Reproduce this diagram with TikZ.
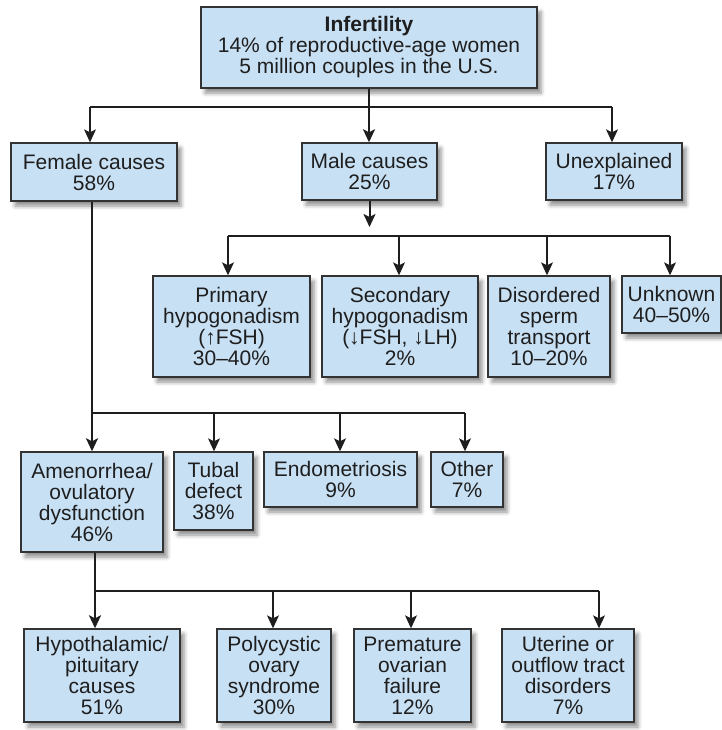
\documentclass[tikz,border=0pt]{standalone}
\usepackage{fontspec}
\setmainfont{Liberation Sans}
\usetikzlibrary{arrows.meta,shadows.blur}
\definecolor{boxfill}{HTML}{C8E0F4}
\definecolor{boxline}{HTML}{333333}
\definecolor{ink}{HTML}{1E1E1E}
\begin{document}
\begin{tikzpicture}[x=1pt,y=-1pt,
  cbox/.style={draw=boxline, line width=1.4pt, fill=boxfill, text=ink, align=center,
    inner sep=0pt, font=\fontsize{21}{21}\selectfont,
    blur shadow={shadow xshift=4pt, shadow yshift=-5pt, shadow blur radius=4pt, shadow opacity=45}},
  conn/.style={draw=ink, line width=1.1pt},
  trunk/.style={draw=ink, line width=2pt},
  arr/.style={-{Stealth[length=13pt,width=12pt,inset=3pt]}}
]
\useasboundingbox (0,0) rectangle (721,730);

% level 0
\node[cbox, minimum width=336pt, minimum height=81pt] (top) at (369,47.5)
  {\textbf{Infertility}\\14\% of reproductive-age women\\5 million couples in the U.S.};

% level 1
\node[cbox, minimum width=166pt, minimum height=58pt] (fem) at (94,172) {Female causes\\58\%};
\node[cbox, minimum width=135pt, minimum height=57pt] (male) at (369.5,171.5) {Male causes\\25\%};
\node[cbox, minimum width=136pt, minimum height=57pt] (unex) at (614,171.5) {Unexplained\\17\%};

% male causes
\node[cbox, minimum width=157pt, minimum height=101pt] (prim) at (231.5,326.5)
  {Primary\\hypogonadism\\(↑FSH)\\30--40\%};
\node[cbox, minimum width=156pt, minimum height=101pt] (sec) at (400,326.5)
  {Secondary\\hypogonadism\\(↓FSH, ↓LH)\\2\%};
\node[cbox, minimum width=122pt, minimum height=101pt] (dis) at (549,326.5)
  {Disordered\\sperm\\transport\\10--20\%};
\node[cbox, minimum width=99pt, minimum height=57pt] (unk) at (671.5,304.5)
  {Unknown\\40--50\%};

% female causes
\node[cbox, minimum width=142pt, minimum height=100pt] (amen) at (92,502)
  {Amenorrhea/\\ovulatory\\dysfunction\\46\%};
\node[cbox, minimum width=79pt, minimum height=78pt] (tub) at (213.5,491)
  {Tubal\\defect\\38\%};
\node[cbox, minimum width=153pt, minimum height=55pt] (endo) at (340.5,479.5)
  {Endometriosis\\9\%};
\node[cbox, minimum width=72pt, minimum height=55pt] (oth) at (467,479.5)
  {Other\\7\%};

% ovulatory causes
\node[cbox, minimum width=156pt, minimum height=93pt] (hypo) at (102,675.5)
  {Hypothalamic/\\pituitary\\causes\\51\%};
\node[cbox, minimum width=114pt, minimum height=93pt] (poly) at (274,675.5)
  {Polycystic\\ovary\\syndrome\\30\%};
\node[cbox, minimum width=117pt, minimum height=93pt] (prem) at (412.5,675.5)
  {Premature\\ovarian\\failure\\12\%};
\node[cbox, minimum width=132pt, minimum height=93pt] (uter) at (568,675.5)
  {Uterine or\\outflow tract\\disorders\\7\%};

% connectors: top
\coordinate (tl) at (90,107);
\coordinate (tr) at (612,107);
\draw[conn] (tl) -- (tr);
\draw[trunk,arr] (top.south) -- (top.south |- male.north);
\draw[conn,arr] (tl) -- (tl |- fem.north);
\draw[conn,arr] (tr) -- (tr |- unex.north);

% male branch
\coordinate (mend) at (369.5,227);
\draw[trunk,arr] (male.south) -- (mend);
\coordinate (ml) at (228,236);
\coordinate (m2) at (399,236);
\coordinate (m3) at (547,236);
\coordinate (mr) at (670,236);
\draw[conn] (ml) -- (mr);
\draw[conn,arr] (ml) -- (ml |- prim.north);
\draw[conn,arr] (m2) -- (m2 |- sec.north);
\draw[conn,arr] (m3) -- (m3 |- dis.north);
\draw[conn,arr] (mr) -- (mr |- unk.north);

% female branch
\coordinate (fj) at (92,413);
\coordinate (f2) at (214,413);
\coordinate (f3) at (340,413);
\coordinate (fr) at (465,413);
\draw[trunk,arr] (fj |- fem.south) -- (fj |- amen.north);
\draw[conn] (fj) -- (fr);
\draw[conn,arr] (f2) -- (f2 |- tub.north);
\draw[conn,arr] (f3) -- (f3 |- endo.north);
\draw[conn,arr] (fr) -- (fr |- oth.north);

% ovulatory branch
\coordinate (aj) at (95,591);
\coordinate (a2) at (273,591);
\coordinate (a3) at (411,591);
\coordinate (ar) at (599,591);
\draw[trunk,arr] (aj |- amen.south) -- (aj |- hypo.north);
\draw[conn] (aj) -- (ar);
\draw[conn,arr] (a2) -- (a2 |- poly.north);
\draw[conn,arr] (a3) -- (a3 |- prem.north);
\draw[conn,arr] (ar) -- (ar |- uter.north);
\end{tikzpicture}
\end{document}
